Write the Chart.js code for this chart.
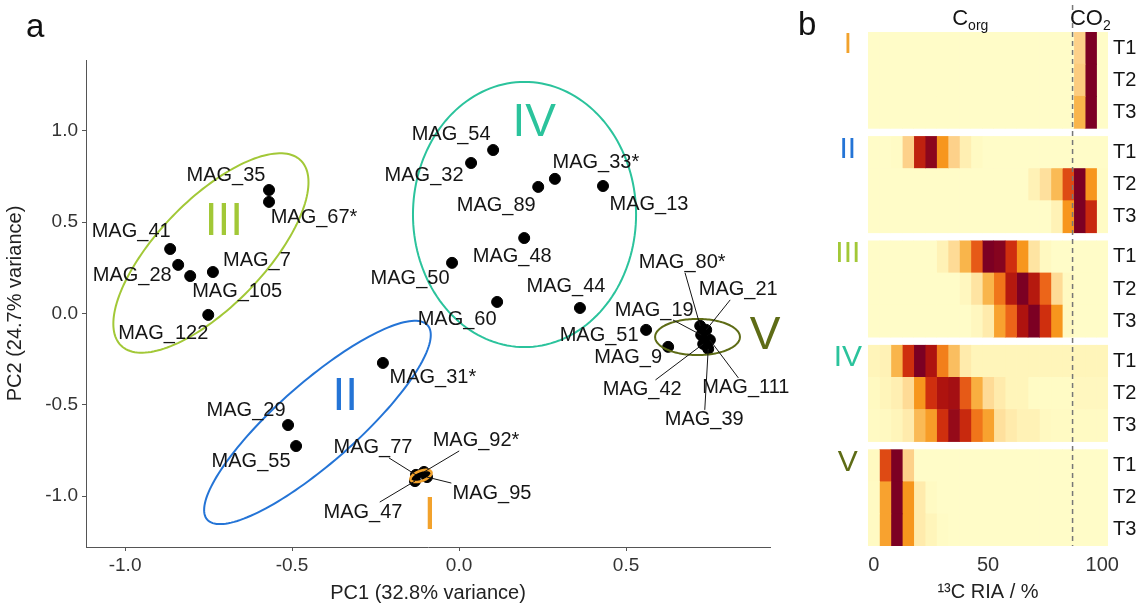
<!DOCTYPE html>
<html>
<head>
<meta charset="utf-8">
<script src="https://cdn.jsdelivr.net/npm/chart.js@4.4.1/dist/chart.umd.min.js"></script>
<style>
  body { margin: 0; background: #fff; }
  #wrap { position: relative; width: 1140px; height: 605px; overflow: hidden; font-family: "Liberation Sans", Arial, sans-serif; }
  #pa { position: absolute; left: 0; top: 0; }
  #pb { position: absolute; left: 790px; top: 0; }
  .tag { position: absolute; font-size: 33px; line-height: 1; color: #111; }
</style>
</head>
<body>
<div id="wrap">
  <canvas id="pa" width="790" height="605"></canvas>
  <canvas id="pb" width="350" height="605"></canvas>
  <div class="tag" style="left:26px;top:9px">a</div>
  <div class="tag" style="left:798px;top:7px">b</div>
</div>
<script>
// ---- panel a : PCA ----
const mags = ['MAG_35', 'MAG_67*', 'MAG_41', 'MAG_28', 'MAG_105', 'MAG_7', 'MAG_122',
  'MAG_54', 'MAG_32', 'MAG_33*', 'MAG_89', 'MAG_13', 'MAG_48', 'MAG_50', 'MAG_60', 'MAG_44',
  'MAG_51', 'MAG_9', 'MAG_80*', 'MAG_21', 'MAG_19', 'MAG_111', 'MAG_42', 'MAG_39',
  'MAG_31*', 'MAG_29', 'MAG_55', 'MAG_77', 'MAG_92*', 'MAG_95', 'MAG_47']
const pc1 = [-0.569, -0.569, -0.865, -0.841, -0.805, -0.737, -0.751,
  0.102, 0.036, 0.287, 0.237, 0.431, 0.195, -0.021, 0.114, 0.362,
  0.560, 0.626, 0.722, 0.740, 0.725, 0.751, 0.731, 0.746,
  -0.228, -0.512, -0.488, -0.129, -0.105, -0.096, -0.132]
const pc2 = [0.676, 0.611, 0.353, 0.266, 0.205, 0.227, -0.008,
  0.895, 0.824, 0.737, 0.693, 0.698, 0.413, 0.277, 0.063, 0.030,
  -0.090, -0.183, -0.068, -0.090, -0.118, -0.145, -0.167, -0.194,
  -0.271, -0.611, -0.726, -0.884, -0.868, -0.896, -0.918]
const xTicksA = [-1.0, -0.5, 0.0, 0.5]
const yTicksA = [-1.0, -0.5, 0.0, 0.5, 1.0]

const groupNames = ['I', 'II', 'III', 'IV', 'V']
const groupColors = { I: '#f2a22c', II: '#2474d6', III: '#a2c837', IV: '#2bc39c', V: '#5e6c16' }

// label offsets from the point, px
const labelPos = {
  'MAG_35': [-43, -15], 'MAG_67*': [45, 16], 'MAG_41': [-39, -18], 'MAG_28': [-46, 11],
  'MAG_105': [47, 15], 'MAG_7': [44, -12], 'MAG_122': [-45, 19],
  'MAG_54': [-42, -16], 'MAG_32': [-47, 12], 'MAG_33*': [41, -16], 'MAG_89': [-42, 19],
  'MAG_13': [46, 18], 'MAG_48': [-12, 18], 'MAG_50': [-42, 16], 'MAG_60': [-40, 18], 'MAG_44': [-14, -21],
  'MAG_51': [-47, 6], 'MAG_9': [-40, 11], 'MAG_80*': [-18, -63], 'MAG_21': [32, -40],
  'MAG_19': [-47, -25], 'MAG_111': [36, 48], 'MAG_42': [-61, 46], 'MAG_39': [-4, 71],
  'MAG_31*': [50, 15], 'MAG_29': [-42, -15], 'MAG_55': [-45, 15],
  'MAG_77': [-43, -27], 'MAG_92*': [52, -31], 'MAG_95': [65, 16], 'MAG_47': [-52, 31]
}
const withLeader = ['MAG_80*', 'MAG_21', 'MAG_19', 'MAG_42', 'MAG_111', 'MAG_39', 'MAG_77', 'MAG_92*', 'MAG_95', 'MAG_47']

// group ellipses: centre + two semi-axis vectors (data units)
const ellipses = [
  { grp: 'III', c: [-0.743, 0.331], u: [0.269, 0.507], v: [0.114, -0.203] },
  { grp: 'IV', c: [0.196, 0.542], u: [0, 0.726], v: [0.334, 0] },
  { grp: 'II', c: [-0.424, -0.597], u: [0.330, 0.532], v: [0.079, -0.164] },
  { grp: 'V', c: [0.714, -0.129], u: [0.127, 0], v: [0, 0.099] },
  { grp: 'I', c: [-0.114, -0.890], u: [0.031, 0.021], v: [0.005, -0.026] }
]
const groupTags = [
  { grp: 'III', at: [-0.704, 0.501] }, { grp: 'IV', at: [0.225, 1.043] },
  { grp: 'V', at: [0.916, -0.123] }, { grp: 'II', at: [-0.341, -0.457] }, { grp: 'I', at: [-0.087, -1.109] }
]

const FONT = '"Liberation Sans", Arial, sans-serif'

const annotA = {
    id: 'annotA',
    afterDatasetsDraw(chart) {
        const { ctx, scales: { x, y } } = chart
        ctx.save()
        ellipses.forEach(e => {
            ctx.beginPath()
            for (let k = 0; k <= 160; k++) {
                const t = k / 160 * Math.PI * 2
                const px = x.getPixelForValue(e.c[0] + e.u[0] * Math.cos(t) + e.v[0] * Math.sin(t))
                const py = y.getPixelForValue(e.c[1] + e.u[1] * Math.cos(t) + e.v[1] * Math.sin(t))
                if (k === 0) ctx.moveTo(px, py)
                else ctx.lineTo(px, py)
            }
            ctx.closePath()
            ctx.strokeStyle = groupColors[e.grp]
            ctx.lineWidth = e.grp === 'I' ? 2.6 : 2
            ctx.stroke()
        })

        ctx.font = '20px ' + FONT
        ctx.textAlign = 'center'
        ctx.textBaseline = 'middle'
        ctx.fillStyle = '#151515'
        ctx.strokeStyle = '#151515'
        ctx.lineWidth = 1
        mags.forEach((m, i) => {
            const px = x.getPixelForValue(pc1[i])
            const py = y.getPixelForValue(pc2[i])
            const [dx, dy] = labelPos[m]
            const cx = px + dx, cy = py + dy
            if (withLeader.includes(m)) {
                const hw = ctx.measureText(m).width / 2 + 2, hh = 10
                const t = Math.min(hw / Math.max(Math.abs(dx), 0.001), hh / Math.max(Math.abs(dy), 0.001))
                ctx.beginPath()
                ctx.moveTo(cx - dx * t, cy - dy * t)
                ctx.lineTo(px, py)
                ctx.stroke()
            }
            ctx.fillText(m, cx, cy)
        })

        ctx.font = '46px ' + FONT
        groupTags.forEach(g => {
            ctx.fillStyle = groupColors[g.grp]
            ctx.fillText(g.grp, x.getPixelForValue(g.at[0]), y.getPixelForValue(g.at[1]))
        })
        ctx.restore()
    }
}

new Chart(document.getElementById('pa'), {
    type: 'scatter',
    data: {
        datasets: [{
            data: mags.map((m, i) => ({ x: pc1[i], y: pc2[i] })),
            backgroundColor: '#000',
            borderColor: '#000',
            pointRadius: 5.5,
            pointHoverRadius: 5.5
        }]
    },
    options: {
        responsive: false,
        animation: false,
        events: [],
        layout: { padding: { top: 60, right: 20, left: 0, bottom: 0 } },
        plugins: { legend: { display: false }, tooltip: { enabled: false } },
        scales: {
            x: {
                type: 'linear', min: -1.117, max: 0.931,
                afterBuildTicks: s => { s.ticks = xTicksA.map(v => ({ value: v })) },
                afterFit: s => { s.height = 58 },
                grid: { drawOnChartArea: false, tickLength: 4, color: '#555' },
                border: { color: '#555', width: 1 },
                ticks: { callback: v => v.toFixed(1), color: '#333', padding: 3, font: { size: 19, family: FONT } },
                title: { display: true, text: 'PC1 (32.8% variance)', color: '#222', padding: { top: 0, bottom: 0 }, font: { size: 20, family: FONT } }
            },
            y: {
                type: 'linear', min: -1.279, max: 1.388,
                afterBuildTicks: s => { s.ticks = yTicksA.map(v => ({ value: v })) },
                afterFit: s => { s.width = 86 },
                grid: { drawOnChartArea: false, tickLength: 4, color: '#555' },
                border: { color: '#555', width: 1 },
                ticks: { callback: v => v.toFixed(1), color: '#333', padding: 4, font: { size: 19, family: FONT } },
                title: { display: true, text: 'PC2 (24.7% variance)', color: '#222', padding: { top: 3, bottom: 0 }, font: { size: 20, family: FONT } }
            }
        }
    },
    plugins: [annotA]
})

// ---- panel b : 13C RIA heat map ----
const timeLabels = ['T1', 'T2', 'T3']
const binCentres = [0, 5, 10, 15, 20, 25, 30, 35, 40, 45, 50, 55, 60, 65, 70, 75, 80, 85, 90, 95, 100]
const xTicksB = [0, 50, 100]
const co2Split = 87
// relative abundance per 5 % RIA bin (0..1), rows T1..T3
const riaI = [
  [.02, .02, .02, .02, .02, .02, .02, .02, .02, .02, .02, .02, .02, .02, .02, .02, .02, .02, .30, 1.0, .02],
  [.02, .02, .02, .02, .02, .02, .02, .02, .02, .02, .02, .02, .02, .02, .02, .02, .02, .02, .32, 1.0, .02],
  [.02, .02, .02, .02, .02, .02, .02, .02, .02, .02, .02, .02, .02, .02, .02, .02, .02, .02, .42, 1.0, .02]
]
const riaII = [
  [.02, .02, .03, .30, .85, .97, .55, .30, .12, .04, .02, .02, .02, .02, .02, .02, .02, .02, .02, .02, .02],
  [.02, .02, .02, .02, .02, .02, .02, .02, .02, .02, .02, .02, .02, .02, .10, .22, .40, .75, 1.0, .55, .03],
  [.02, .02, .02, .02, .02, .02, .02, .02, .02, .02, .02, .02, .02, .02, .02, .02, .10, .55, 1.0, .82, .03]
]
const riaIII = [
  [.02, .02, .02, .02, .02, .02, .10, .25, .42, .72, 1.0, .98, .80, .55, .20, .05, .02, .02, .02, .02, .02],
  [.02, .02, .02, .02, .02, .02, .02, .02, .06, .20, .42, .65, .88, 1.0, .88, .70, .25, .05, .02, .02, .02],
  [.02, .02, .02, .02, .02, .02, .02, .02, .02, .06, .15, .50, .70, .90, 1.0, .80, .55, .05, .02, .02, .02]
]
const riaIV = [
  [.08, .10, .42, .80, 1.0, .90, .62, .38, .15, .08, .08, .08, .08, .08, .08, .08, .08, .08, .08, .08, .08],
  [.05, .08, .12, .25, .55, .80, .90, .92, .72, .45, .25, .15, .08, .08, .03, .03, .03, .03, .06, .06, .06],
  [.04, .05, .08, .15, .40, .52, .80, .95, .82, .65, .50, .22, .15, .10, .10, .05, .04, .04, .04, .04, .04]
]
const riaV = [
  [.05, .75, 1.0, .30, .02, .02, .02, .02, .02, .02, .02, .02, .02, .02, .02, .02, .02, .02, .02, .02, .02],
  [.04, .50, 1.0, .55, .15, .04, .02, .02, .02, .02, .02, .02, .02, .02, .02, .02, .02, .02, .02, .02, .02],
  [.04, .50, 1.0, .55, .15, .08, .03, .02, .02, .02, .02, .02, .02, .02, .02, .02, .02, .02, .02, .02, .02]
]
const riaGroups = [riaI, riaII, riaIII, riaIV, riaV]

// colour ramp (light yellow -> dark red)
const rampAt = [0, 0.1, 0.2, 0.3, 0.42, 0.55, 0.7, 0.8, 0.9, 1]
const rampCol = ['#ffffcc', '#fff2b6', '#fee4a2', '#fdd18a', '#f9b54b', '#f7961d', '#ec6519', '#cf2f0e', '#ae130f', '#7c0023']
function hexRgb(h) { return [1, 3, 5].map(i => parseInt(h.substr(i, 2), 16)) }
function heatColor(v) {
    let k = 1
    while (k < rampAt.length - 1 && v > rampAt[k]) k++
    const f = Math.min(1, Math.max(0, (v - rampAt[k - 1]) / (rampAt[k] - rampAt[k - 1])))
    const a = hexRgb(rampCol[k - 1]), b = hexRgb(rampCol[k])
    return 'rgb(' + a.map((c, i) => Math.round(c + (b[i] - c) * f)).join(',') + ')'
}

const gapRows = 0.25
const rowPos = [], rowVals = [], rowLabels = []
riaGroups.forEach((g, gi) => g.forEach((vals, ti) => {
    rowPos.push(gi * (3 + gapRows) + ti + 0.5)
    rowVals.push(vals)
    rowLabels.push(timeLabels[ti])
}))
const yMaxB = 5 * 3 + 4 * gapRows

const datasetsB = binCentres.map((c, k) => ({
    data: rowPos.map(p => ({ x: [c - 2.5, c + 2.5], y: p })),
    backgroundColor: rowVals.map(v => heatColor(v[k])),
    borderWidth: 0,
    grouped: false,
    barPercentage: 1,
    categoryPercentage: 1,
    yAxisID: 'y'
}))

const annotB = {
    id: 'annotB',
    afterDatasetsDraw(chart) {
        const { ctx, scales: { x }, chartArea } = chart
        ctx.save()
        const xs = x.getPixelForValue(co2Split)
        ctx.strokeStyle = '#777'
        ctx.lineWidth = 1.5
        ctx.setLineDash([5, 4])
        ctx.beginPath()
        ctx.moveTo(xs, 5)
        ctx.lineTo(xs, chartArea.bottom)
        ctx.stroke()
        ctx.setLineDash([])

        ctx.fillStyle = '#151515'
        ctx.textBaseline = 'alphabetic'
        ctx.textAlign = 'left'
        const sub = (main, low, centre) => {
            ctx.font = '22px ' + FONT
            const w1 = ctx.measureText(main).width
            ctx.font = '14px ' + FONT
            const w2 = ctx.measureText(low).width
            const x0 = centre - (w1 + w2) / 2
            ctx.font = '22px ' + FONT
            ctx.fillText(main, x0, 25)
            ctx.font = '14px ' + FONT
            ctx.fillText(low, x0 + w1, 30)
        }
        sub('C', 'org', x.getPixelForValue((-2.5 + co2Split) / 2))
        sub('CO', '2', x.getPixelForValue((co2Split + 102.5) / 2))
        ctx.restore()
    }
}

new Chart(document.getElementById('pb'), {
    type: 'bar',
    data: { datasets: datasetsB },
    options: {
        indexAxis: 'y',
        responsive: false,
        animation: false,
        events: [],
        layout: { padding: { top: 32, right: 0, left: 0, bottom: 0 } },
        plugins: { legend: { display: false }, tooltip: { enabled: false } },
        scales: {
            x: {
                type: 'linear', min: -2.5, max: 102.5, offset: false,
                afterBuildTicks: s => { s.ticks = xTicksB.map(v => ({ value: v })) },
                afterFit: s => { s.height = 59 },
                grid: { display: false, drawTicks: false },
                border: { display: false },
                ticks: { color: '#333', padding: 7, font: { size: 20, family: FONT } },
                title: { display: true, text: '¹³C RIA / %', color: '#222', padding: { top: 0, bottom: 1 }, font: { size: 20, family: FONT } }
            },
            y: {
                type: 'linear', position: 'right', reverse: true, min: 0, max: yMaxB, offset: false,
                afterBuildTicks: s => { s.ticks = rowPos.map(v => ({ value: v })) },
                afterFit: s => { s.width = 32 },
                grid: { display: false, drawTicks: false, offset: false },
                border: { display: false },
                ticks: { autoSkip: false, padding: 5, color: '#151515', callback: (v, i) => rowLabels[i], font: { size: 20, family: FONT } }
            },
            yg: {
                type: 'linear', position: 'left', reverse: true, min: 0, max: yMaxB, offset: false,
                afterBuildTicks: s => { s.ticks = groupNames.map((g, gi) => ({ value: gi * (3 + gapRows) + 0.4 })) },
                afterFit: s => { s.width = 78 },
                grid: { display: false, drawTicks: false, offset: false },
                border: { display: false },
                ticks: {
                    autoSkip: false, padding: 6, crossAlign: 'center',
                    callback: (v, i) => groupNames[i],
                    color: c => groupColors[groupNames[c.index]],
                    font: { size: 30, family: FONT }
                }
            }
        }
    },
    plugins: [annotB]
})
</script>
</body>
</html>
